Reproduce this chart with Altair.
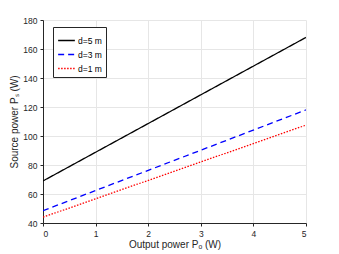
import altair as alt
import pandas as pd

series = ["d=5 m", "d=3 m", "d=1 m"]
x_vals = [0, 5]
y_d5 = [69, 168]
y_d3 = [48.5, 118]
y_d1 = [44, 107.5]

rows = []
for name, ys in zip(series, [y_d5, y_d3, y_d1]):
    for x, y in zip(x_vals, ys):
        rows.append({"series": name, "x": x, "y": y})
df = pd.DataFrame(rows)

font = "Liberation Sans"

leg = dict(title=None, orient="none", legendX=10, legendY=7,
           symbolType="stroke", symbolSize=280, symbolStrokeWidth=1.5,
           strokeColor="#262626", fillColor="white", padding=4,
           labelFont=font, labelFontSize=8.5, labelColor="#000",
           rowPadding=0, labelOffset=2)

chart = alt.Chart(df).mark_line(strokeWidth=1.3, clip=True).encode(
    x=alt.X("x:Q", scale=alt.Scale(domain=[0, 5], nice=False),
            axis=alt.Axis(values=[0, 1, 2, 3, 4, 5], title="Output power  Pₒ  (W)", format="d")),
    y=alt.Y("y:Q", scale=alt.Scale(domain=[40, 180], nice=False),
            axis=alt.Axis(values=[40, 60, 80, 100, 120, 140, 160, 180], title="Source power  Pₛ  (W)")),
    color=alt.Color("series:N", sort=series,
                    scale=alt.Scale(domain=series, range=["#000000", "#0000ff", "#ff0000"]),
                    legend=alt.Legend(**leg)),
    strokeDash=alt.StrokeDash("series:N", sort=series,
                              scale=alt.Scale(domain=series, range=[[1, 0], [6, 4], [1.5, 1.5]]),
                              legend=alt.Legend(**leg)),
).properties(
    width=263, height=203,
    autosize=alt.AutoSizeParams(type="none"),
    padding={"left": 35, "top": 12, "right": 25, "bottom": 30},
).configure_view(stroke=None).configure_axis(
    labelFont=font, labelFontSize=8.5, labelColor="#262626",
    titleFont=font, titleFontSize=10, titleColor="#262626", titleFontWeight="normal",
    domainColor="#262626", tickColor="#262626", tickSize=3,
    gridColor="#e6e6e6", grid=True, labelPadding=3,
).configure_axisY(titlePadding=3).configure_axisX(titlePadding=2)

chart.save("out.html", embed_options={"renderer": "svg", "actions": False})
